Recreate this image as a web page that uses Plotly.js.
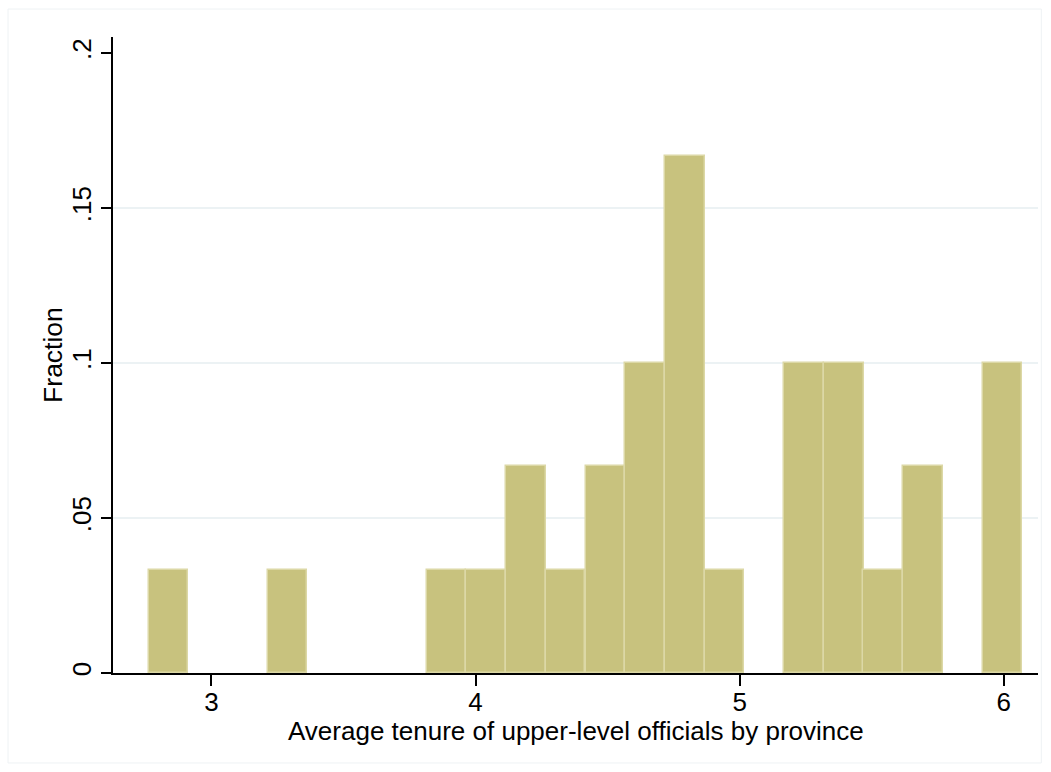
<!DOCTYPE html>
<html>
<head>
<meta charset="utf-8">
<script src="https://cdn.plot.ly/plotly-3.0.1.min.js"></script>
<style>
html,body{margin:0;padding:0;background:#ffffff;}
#chart{width:1051px;height:772px;}
</style>
</head>
<body>
<div id="chart"></div>
<script>
// Histogram: 22 bins of width ~0.1504 starting at ~2.762
const binCenters = [2.837, 2.988, 3.138, 3.288, 3.439, 3.589, 3.740, 3.890, 4.040, 4.191, 4.341,
                    4.492, 4.642, 4.792, 4.943, 5.093, 5.244, 5.394, 5.544, 5.695, 5.845, 5.996];
const binWidth = 0.1504;
const fractions = [0.0333, 0, 0, 0.0333, 0, 0, 0, 0.0333, 0.0333, 0.0667, 0.0333,
                   0.0667, 0.1, 0.1667, 0.0333, 0, 0.1, 0.1, 0.0333, 0.0667, 0, 0.1];
const xTickVals = [3, 4, 5, 6];
const xTickText = ['3', '4', '5', '6'];
const yTickVals = [0, 0.05, 0.1, 0.15, 0.2];
const yTickText = ['0', '.05', '.1', '.15', '.2'];
const gridVals = [0.05, 0.1, 0.15];
const xTitle = 'Average tenure of upper-level officials by province';
const yTitle = 'Fraction';

const font = 'Liberation Sans, Arial, Helvetica, sans-serif';

const trace = {
  type: 'bar',
  x: binCenters,
  y: fractions.map(v => (v === 0 ? null : v)),
  width: binCenters.map(() => binWidth),
  marker: {color: '#c8c27e', line: {color: '#dcd8a6', width: 1.5}},
  hoverinfo: 'x+y'
};

const shapes = gridVals.map(v => ({
  type: 'line', xref: 'paper', yref: 'y', x0: 0, x1: 1, y0: v, y1: v,
  line: {color: '#e6eef1', width: 1.5}, layer: 'below'
}));
// outer frame
shapes.push({
  type: 'rect', xref: 'paper', yref: 'paper',
  x0: -0.1135, x1: 1.0036, y0: -0.1415, y1: 1.044,
  line: {color: '#eef2f4', width: 1}, fillcolor: 'rgba(0,0,0,0)', layer: 'below'
});

const annotations = [
  {text: xTitle, xref: 'paper', yref: 'paper', x: 0.5, y: -0.0905,
   xanchor: 'center', yanchor: 'middle', showarrow: false,
   font: {family: font, size: 26, color: '#000'}},
  {text: yTitle, xref: 'paper', yref: 'paper', x: -0.065, y: 0.5, textangle: -90,
   xanchor: 'center', yanchor: 'middle', showarrow: false,
   font: {family: font, size: 26.5, color: '#000'}}
];

const layout = {
  width: 1051, height: 772,
  margin: {l: 113, r: 13, t: 37, b: 99, pad: 0},
  paper_bgcolor: '#ffffff',
  plot_bgcolor: 'rgba(0,0,0,0)',
  showlegend: false,
  bargap: 0,
  font: {family: font, color: '#000000', size: 26},
  xaxis: {
    range: [2.627, 6.130],
    tickvals: xTickVals, ticktext: xTickText,
    ticks: 'outside', ticklen: 11, tickwidth: 1.5, tickcolor: '#000',
    ticklabelstandoff: -6,
    showline: true, linecolor: '#000', linewidth: 1.5,
    showgrid: false, zeroline: false,
    tickfont: {family: font, size: 26, color: '#000'}
  },
  yaxis: {
    range: [0, 0.2052],
    tickvals: yTickVals, ticktext: yTickText,
    tickangle: -90,
    ticks: 'outside', ticklen: 10, tickwidth: 1.5, tickcolor: '#000',
    showline: true, linecolor: '#000', linewidth: 1.5,
    showgrid: false, zeroline: false,
    tickfont: {family: font, size: 26, color: '#000'}
  },
  annotations: annotations,
  shapes: shapes
};

Plotly.newPlot('chart', [trace], layout, {displayModeBar: false, staticPlot: false});
</script>
</body>
</html>
